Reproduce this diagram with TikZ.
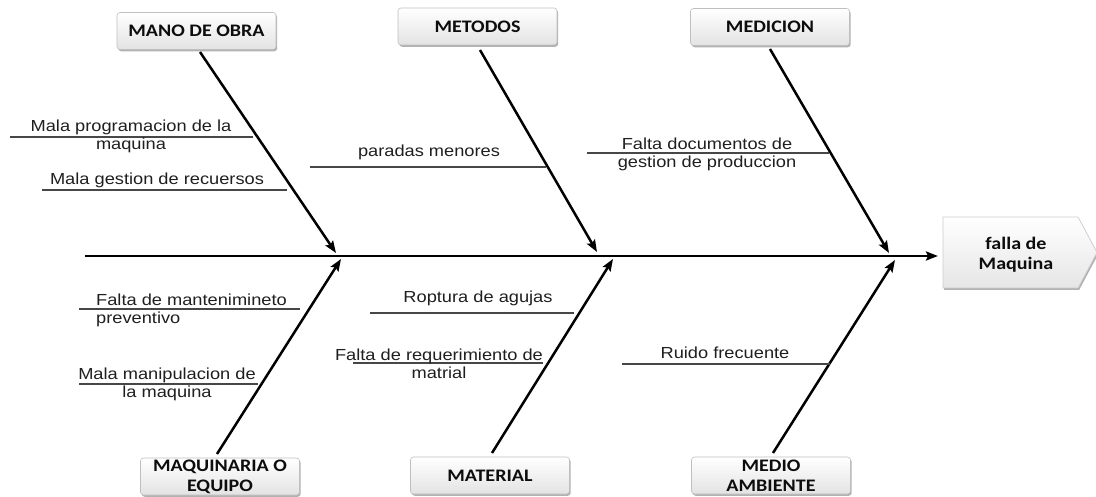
\documentclass[tikz,border=0pt]{standalone}
\usepackage{fontspec}
\setmainfont{Liberation Sans}
\newfontfamily\labfont[FakeStretch=1.14]{Liberation Sans}
\newfontfamily\boxfont[FakeStretch=1.14]{Carlito}
\usetikzlibrary{arrows.meta,shadows}
\begin{document}
\begin{tikzpicture}[x=1pt,y=-1pt,
  catbox/.style={draw=gray!50, line width=0.6pt, rounded corners=3pt,
    top color=white, bottom color=gray!22,
    drop shadow={shadow xshift=1.2pt,shadow yshift=-1.8pt,opacity=0.3,fill=black},
    minimum width=159pt, minimum height=37pt, inner sep=0pt,
    font=\boxfont\bfseries\fontsize{17.6}{20}\selectfont, text=black!95, align=center},
  bone/.style={line width=2.5pt, -{Stealth[length=12pt,width=9pt,inset=2pt]}},
  sub/.style={draw=black!72, line width=1.3pt},
  lab/.style={font=\labfont\fontsize{16}{18}\selectfont, text=black!88, inner sep=0pt, align=center}
]
\useasboundingbox (0,0) rectangle (1096,497);

% category boxes
\node[catbox] (mano) at (196.5,31) {MANO DE OBRA};
\node[catbox] (met) at (477.5,26.5) {METODOS};
\node[catbox] (med) at (770,27) {MEDICION};
\node[catbox] (maq) at (220,476.5) {MAQUINARIA O\\EQUIPO};
\node[catbox] (mat) at (490,475.5) {MATERIAL};
\node[catbox] (amb) at (771,475.5) {MEDIO\\AMBIENTE};

% effect
\path[draw=gray!40, line width=0.6pt, top color=white, bottom color=gray!20,
  drop shadow={shadow xshift=1.2pt,shadow yshift=-1.8pt,opacity=0.3,fill=black}]
  (943,217) -- (1078,217) -- (1097,252.5) -- (1078,288) -- (943,288) -- cycle;
\node[font=\boxfont\bfseries\fontsize{17.6}{20}\selectfont, text=black!95, align=center, inner sep=0pt] (eff) at (1016,255) {falla de\\Maquina};

% spine
\coordinate (s0) at (85,256);
\coordinate (s1) at (938,256);
\draw[bone] (s0) -- (s1);

% bones
\coordinate (a1) at (200,52);  \coordinate (b1) at (336,253);
\coordinate (a2) at (480,50);  \coordinate (b2) at (597,252);
\coordinate (a3) at (770,49);  \coordinate (b3) at (889,253);
\coordinate (a4) at (217,454); \coordinate (b4) at (341,259);
\coordinate (a5) at (492,453); \coordinate (b5) at (613,259);
\coordinate (a6) at (773,453); \coordinate (b6) at (895,260);
\draw[bone] (a1) -- (b1);
\draw[bone] (a2) -- (b2);
\draw[bone] (a3) -- (b3);
\draw[bone] (a4) -- (b4);
\draw[bone] (a5) -- (b5);
\draw[bone] (a6) -- (b6);

% sub-causes
\coordinate (l1a) at (10,137);  \coordinate (l1b) at (253,137);
\draw[sub] (l1a) -- (l1b);
\node[lab] (t1) at (131,136.5) {Mala programacion de la\\maquina};

\coordinate (l2a) at (42,190);  \coordinate (l2b) at (287,190);
\draw[sub] (l2a) -- (l2b);
\node[lab] (t2) at (157,180) {Mala gestion de recuersos};

\coordinate (l3a) at (310,167); \coordinate (l3b) at (546,167);
\draw[sub] (l3a) -- (l3b);
\node[lab] (t3) at (429,152) {paradas menores};

\coordinate (l4a) at (587,153); \coordinate (l4b) at (829,153);
\draw[sub] (l4a) -- (l4b);
\node[lab] (t4) at (707,154) {Falta documentos de\\gestion de produccion};

\coordinate (l5a) at (79,309);  \coordinate (l5b) at (300,309);
\draw[sub] (l5a) -- (l5b);
\node[lab, align=left, anchor=west] (t5) at (96,310.5) {Falta de mantenimineto\\preventivo};

\coordinate (l6a) at (79,384);  \coordinate (l6b) at (258,384);
\draw[sub] (l6a) -- (l6b);
\node[lab] (t6) at (167,384) {Mala manipulacion de\\la maquina};

\coordinate (l7a) at (370,313); \coordinate (l7b) at (574,313);
\draw[sub] (l7a) -- (l7b);
\node[lab] (t7) at (478,298) {Roptura de agujas};

\coordinate (l8a) at (353,363); \coordinate (l8b) at (543,363);
\draw[sub] (l8a) -- (l8b);
\node[lab] (t8) at (439,364) {Falta de requerimiento de\\matrial};

\coordinate (l9a) at (622,364); \coordinate (l9b) at (830,364);
\draw[sub] (l9a) -- (l9b);
\node[lab] (t9) at (725,353) {Ruido frecuente};
\end{tikzpicture}
\end{document}
